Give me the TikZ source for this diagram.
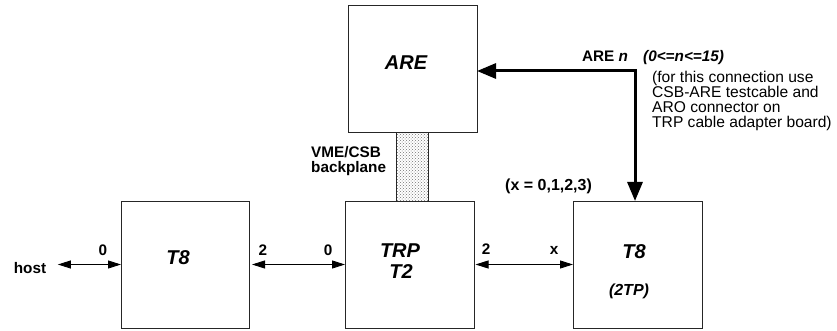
\documentclass[tikz,border=0pt]{standalone}
\usepackage{fontspec}
\setmainfont{Liberation Sans}
\usetikzlibrary{arrows.meta,patterns}
\begin{document}
\begin{tikzpicture}[x=1pt,y=-1pt,
  box/.style={draw=black!85,line width=1pt,inner sep=0pt,outer sep=0pt,minimum width=129pt,minimum height=127pt},
  lab/.style={inner sep=0pt,font=\fontsize{15.3}{15}\selectfont\bfseries},
  note/.style={inner sep=0pt,font=\fontsize{15.6}{15}\selectfont,align=left},
  big/.style={inner sep=0pt,font=\fontsize{20}{20}\selectfont\bfseries\itshape},
  thinarrow/.style={line width=0.9pt,{Triangle[length=13pt,width=8pt]}-{Triangle[length=13pt,width=8pt]}},
  bigarrow/.style={line width=3pt,{Triangle[length=19pt,width=15pt]}-{Triangle[length=19pt,width=15pt]}}
]
\useasboundingbox (0,0) rectangle (837,331);
% boxes
\node[box] (are) at (412.5,69.5) {};
\node[box,minimum width=32pt,minimum height=68pt,pattern=crosshatch dots,pattern color=black!55] (bp) at (412,167) {};
\node[box] (trp) at (409.5,264.5) {};
\node[box,minimum width=128pt] (t8a) at (185,264.5) {};
\node[box] (t8b) at (637.5,264.5) {};
% box texts
\node[big,anchor=base] (areT) at (406,70) {ARE};
\node[big,anchor=base] (t8aT) at (178,264) {T8};
\node[big,anchor=base] (trpT) at (400,257) {TRP};
\node[big,anchor=base] (trpT2) at (401,278) {T2};
\node[big,anchor=base] (t8bT) at (634,258) {T8};
\node[inner sep=0pt,font=\fontsize{16}{16}\selectfont\bfseries\itshape,anchor=base] (t8bS) at (629,295) {(2TP)};
% labels
\node[lab,anchor=base] (host) at (30,273) {host};
\node[lab,anchor=base] (l0a) at (103,255) {0};
\node[lab,anchor=base] (l2a) at (263,255) {2};
\node[lab,anchor=base] (l0b) at (328,255) {0};
\node[lab,anchor=base] (l2b) at (486,254) {2};
\node[lab,anchor=base] (lx) at (554,254) {x};
\node[lab,anchor=base west] (vme) at (311,158) {VME/CSB};
\node[lab,anchor=base west] (bpl) at (311,172) {backplane};
\node[lab,font=\fontsize{16}{16}\selectfont\bfseries,anchor=base west] (xr) at (505,190) {(x = 0,1,2,3)};
\node[lab,anchor=base] (aren) at (605,62) {ARE \textit{n}};
\node[lab,anchor=base west] (rng) at (643,62) {\textit{(0<=n<=15)}};
\node[note,anchor=north west] (nt) at (652,71) {(for this connection use\\CSB-ARE testcable and\\ARO connector on\\TRP cable adapter board)};
% connectors
\coordinate (c) at (635,71);
\draw[bigarrow] (c -| are.east) -- (c) -- (c |- t8b.north);
\draw[thinarrow] ([xshift=11.5pt]host.east |- t8a.west) -- (t8a.west);
\draw[thinarrow,shorten <=3pt] (t8a.east) -- (trp.west);
\draw[thinarrow,shorten <=1.5pt] (trp.east) -- (t8b.west);
\end{tikzpicture}
\end{document}
